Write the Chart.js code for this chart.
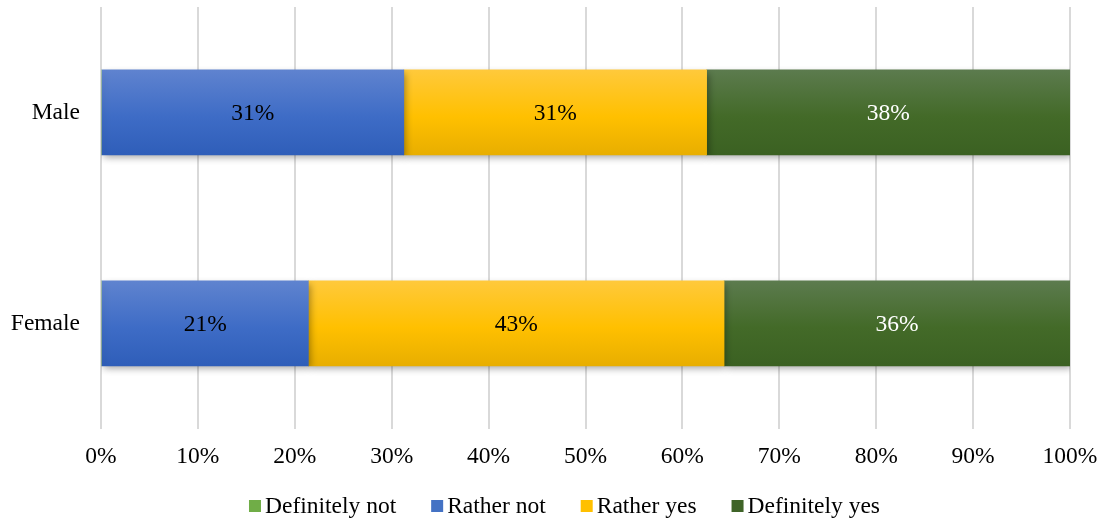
<!DOCTYPE html>
<html>
<head>
<meta charset="utf-8">
<script src="https://cdn.jsdelivr.net/npm/chart.js@4/dist/chart.umd.min.js"></script>
<style>
  body { margin: 0; background: #fff; }
  #wrap { width: 1103px; height: 522px; }
</style>
</head>
<body>
<div id="wrap"><canvas id="chart"></canvas></div>
<script>
const categories = ['Male', 'Female']
const seriesNames = ['Definitely not', 'Rather not', 'Rather yes', 'Definitely yes']
const definitelyNot = [0, 0]
const ratherNot = [31.25, 21.4]
const ratherYes = [31.25, 42.9]
const definitelyYes = [37.5, 35.7]
const xTicks = [0, 10, 20, 30, 40, 50, 60, 70, 80, 90, 100]

// top / middle / bottom shades for the bar gradients, plus legend swatch
const shades = [
  ['#86c15e', '#70ad47', '#5f9a3a', '#70ad47'],
  ['#5f83cf', '#3e6cc6', '#2f5eb9', '#4472c4'],
  ['#ffc93b', '#ffc000', '#e8ae00', '#ffc000'],
  ['#5c7b4e', '#436a28', '#3b6122', '#3f6428']
]
const labelColors = ['#000', '#000', '#000', '#fff']
const BAR = 85
const FONT = '"Liberation Serif", "Times New Roman", serif'
const FS = 23.5

function gradientFor(i) {
  return (ctx) => {
    const chart = ctx.chart
    if (!chart.chartArea || !chart.scales.y || ctx.type !== 'data') return shades[i][3]
    const yc = chart.scales.y.getPixelForValue(ctx.dataIndex)
    const g = chart.ctx.createLinearGradient(0, yc - BAR / 2, 0, yc + BAR / 2)
    g.addColorStop(0, shades[i][0])
    g.addColorStop(0.55, shades[i][1])
    g.addColorStop(1, shades[i][2])
    return g
  }
}

const values = [definitelyNot, ratherNot, ratherYes, definitelyYes]
const datasets = seriesNames.map((name, i) => ({
  label: name,
  data: values[i],
  backgroundColor: gradientFor(i),
  borderWidth: 0,
  barThickness: BAR
}))

const shadowPlugin = {
  id: 'barShadow',
  beforeDatasetsDraw(chart) {
    const c = chart.ctx
    c.save()
    c.shadowColor = 'rgba(0,0,0,0.35)'
    c.shadowBlur = 7
    c.shadowOffsetX = 2
    c.shadowOffsetY = 3
  },
  afterDatasetsDraw(chart) {
    chart.ctx.restore()
  }
}

const labelPlugin = {
  id: 'barLabels',
  afterDatasetsDraw(chart) {
    const c = chart.ctx
    c.save()
    c.font = FS + 'px ' + FONT
    c.textAlign = 'center'
    c.textBaseline = 'middle'
    chart.data.datasets.forEach((ds, i) => {
      const meta = chart.getDatasetMeta(i)
      meta.data.forEach((bar, j) => {
        const v = ds.data[j]
        if (!v) return
        c.fillStyle = labelColors[i]
        c.fillText(Math.round(v) + '%', (bar.x + bar.base) / 2, bar.y + 1)
      })
    })
    c.restore()
  }
}

// legend drawn by hand: small square, short gap, text
const legendPlugin = {
  id: 'bottomLegend',
  afterDraw(chart) {
    const c = chart.ctx
    c.save()
    c.font = FS + 'px ' + FONT
    c.textBaseline = 'middle'
    const box = 12, gap = 4, sep = 35
    const widths = seriesNames.map(n => c.measureText(n).width)
    const total = widths.reduce((a, w) => a + box + gap + w, 0) + sep * (seriesNames.length - 1)
    let x = (chart.width - total) / 2 + 13
    const y = 506
    seriesNames.forEach((n, i) => {
      c.fillStyle = shades[i][3]
      c.fillRect(x, y - box / 2, box, box)
      c.fillStyle = '#000'
      c.fillText(n, x + box + gap, y + 1)
      x += box + gap + widths[i] + sep
    })
    c.restore()
  }
}

const config = {
  type: 'bar',
  data: { labels: categories, datasets: datasets },
  options: {
    indexAxis: 'y',
    responsive: true,
    maintainAspectRatio: false,
    animation: false,
    layout: { padding: { top: 7, right: 33, left: 10, bottom: 37 } },
    scales: {
      x: {
        stacked: true,
        min: 0,
        max: 100,
        afterBuildTicks: (axis) => { axis.ticks = xTicks.map(v => ({ value: v })) },
        afterFit: (axis) => { axis.paddingLeft = 0; axis.paddingRight = 0 },
        grid: { color: '#d9d9d9', lineWidth: 2, drawTicks: false },
        border: { display: false },
        ticks: {
          padding: 14,
          color: '#000',
          maxRotation: 0,
          font: { family: FONT, size: FS },
          callback: (v) => v + '%'
        }
      },
      y: {
        stacked: true,
        afterFit: (axis) => { axis.paddingTop = 0; axis.paddingBottom = 0; axis.width = 91 },
        grid: { display: false, drawTicks: false },
        border: { display: false },
        ticks: {
          padding: 21,
          color: '#000',
          font: { family: FONT, size: FS }
        }
      }
    },
    plugins: {
      tooltip: { enabled: false },
      legend: { display: false }
    }
  },
  plugins: [shadowPlugin, labelPlugin, legendPlugin]
}

const ctx = document.getElementById('chart')
const myChart = new Chart(ctx, config)
</script>
</body>
</html>
